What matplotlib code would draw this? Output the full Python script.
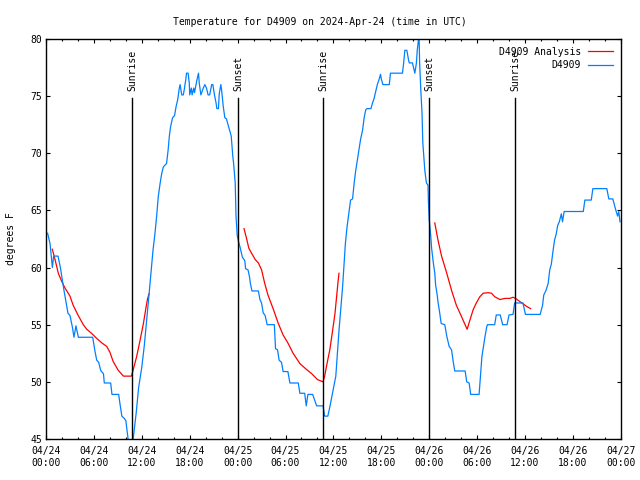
import numpy as np
import matplotlib.pyplot as plt

# hours since 2024-04-24 00:00 UTC
obs_hours = [0.2, 0.5, 0.8, 0.95, 1.5, 1.8, 2.2, 2.5, 2.75, 3.0, 3.3, 3.5, 3.75, 4.05, 5.85, 6.1, 6.35,
             6.6, 6.85, 7.2, 7.3, 8.1, 8.26, 9.1, 9.26, 9.5, 9.8, 10.0, 10.2, 10.35, 10.85, 11.0, 11.3,
             11.6, 12.0, 12.3, 12.6, 12.9, 13.15, 13.4, 13.65, 13.86, 14.06, 14.3, 14.5, 14.7, 15.1,
             15.3, 15.45, 15.6, 15.85, 16.1, 16.3, 16.5, 16.7, 16.8, 17.0, 17.2, 17.3, 17.5, 17.6, 17.8,
             17.95, 18.0, 18.2, 18.3, 18.5, 18.6, 18.9, 19.1, 19.2, 19.4, 19.7, 19.9, 20.1, 20.3, 20.5,
             20.75, 20.9, 21.1, 21.3, 21.4, 21.6, 21.7, 21.9, 22.0, 22.2, 22.4, 22.6, 22.8, 23.0, 23.2,
             23.4, 23.5, 23.7, 23.8, 23.95, 24.1, 24.3, 24.5, 24.6, 24.9, 25.0, 25.3, 25.5, 25.6, 25.8,
             26.6, 26.8, 27.0, 27.2, 27.45, 27.7, 28.6, 28.75, 29.0, 29.2, 29.5, 29.7, 30.3, 30.55,
             31.6, 31.8, 32.4, 32.6, 32.8, 33.4, 33.7, 33.9, 34.7, 34.9, 35.3, 35.55, 35.8, 36.05,
             36.3, 36.5, 36.7, 36.95, 37.15, 37.35, 37.5, 37.7, 37.98, 38.15, 38.4, 38.6, 38.8, 39.0,
             39.2, 39.4, 39.65, 39.85, 40.05, 40.2, 40.7, 40.9, 41.1, 41.3, 41.5, 41.7, 41.9, 42.0,
             42.2, 43.0, 43.15, 44.65, 44.8, 44.95, 45.2, 45.4, 45.5, 45.9, 46.1, 46.2, 46.4, 46.5,
             46.65, 46.72, 46.8, 46.95, 47.1, 47.2, 47.45, 47.65, 47.85, 47.9, 48.0, 48.2, 48.3, 48.5,
             48.7, 48.8, 49.0, 49.1, 49.3, 49.5, 49.95, 50.2, 50.5, 50.8, 51.0, 51.2, 52.5, 52.7, 53.0,
             53.2, 54.25, 54.4, 54.6, 54.8, 55.0, 55.2, 55.3, 56.2, 56.4, 56.9, 57.2, 57.75, 58.0, 58.5,
             58.7, 59.75, 60.05, 61.9, 62.2, 62.35, 62.6, 62.9, 63.1, 63.3, 63.5, 63.7, 63.9, 64.1,
             64.3, 64.55, 64.7, 64.9, 67.3, 67.5, 68.3, 68.5, 70.25, 70.5, 71.0, 71.3, 71.6, 71.75, 71.9]
obs_temp = [63.0, 62.1, 60.0, 61.0, 61.0, 60.0, 58.2, 57.0, 56.0, 55.8, 54.8, 53.9, 54.9, 53.9, 53.9, 52.8, 51.9,
            51.7, 51.0, 50.7, 49.9, 49.9, 48.9, 48.9, 48.1, 47.0, 46.8, 46.6, 45.5, 44.6, 44.6, 45.5, 47.3,
            49.5, 51.3, 53.1, 55.4, 57.6, 59.5, 61.5, 63.0, 64.5, 66.2, 67.4, 68.25, 68.8, 69.1,
            70.3, 71.5, 72.3, 73.1, 73.3, 74.1, 74.7, 75.7, 76.0, 75.1, 75.1, 75.5, 76.4, 77.0, 77.0,
            76.1, 75.1, 75.7, 75.1, 75.7, 75.3, 76.4, 77.0, 76.1, 75.1, 75.7, 76.0, 75.7, 75.1, 75.1,
            76.0, 76.0, 75.1, 74.4, 73.9, 73.9, 75.2, 76.0, 75.5, 74.1, 73.1, 73.0, 72.5, 72.0, 71.5,
            69.7, 69.1, 67.4, 64.5, 62.8, 62.3, 61.8, 61.2, 60.9, 60.6, 59.9, 59.8, 59.15, 58.6, 57.95,
            57.95, 57.2, 56.9, 56.05, 55.8, 55.0, 55.0, 52.9, 52.8, 51.9, 51.7, 50.9, 50.9, 49.9,
            49.9, 49.0, 49.0, 47.9, 48.9, 48.9, 48.3, 47.9, 47.9, 47.0, 47.0, 47.8, 48.7, 49.6,
            50.5, 52.5, 54.5, 56.6, 58.3, 60.4, 62.1, 63.5, 65.0, 65.9, 66.0, 67.4, 68.5, 69.4,
            70.3, 71.2, 72.0, 73.1, 73.8, 73.9, 73.9, 74.4, 74.8, 75.4, 76.0, 76.4, 76.9, 76.5,
            76.0, 76.0, 77.0, 77.0, 77.9, 79.0, 79.0, 78.2, 77.9, 77.9, 77.3, 77.0, 77.9, 79.0,
            79.9, 80.6, 77.9, 75.5, 73.5, 70.9, 68.5, 67.4, 67.2, 65.8, 64.2, 62.7, 61.7, 60.5,
            59.5, 58.5, 57.6, 57.0, 56.1, 55.1, 55.0, 54.0, 53.1, 52.8, 51.8, 50.95, 50.95, 50.0, 49.9,
            48.9, 48.9, 50.3, 52.2, 53.1, 54.0, 54.8, 55.0, 55.0, 55.85, 55.85, 55.0, 55.0, 55.85, 55.9,
            56.9, 56.9, 55.9, 55.9, 56.7, 57.6, 57.95, 58.6, 59.8, 60.3, 61.4, 62.4, 62.9, 63.7,
            64.0, 64.7, 64.0, 64.9, 64.9, 65.9, 65.9, 66.9, 66.9, 66.0, 66.0, 65.2, 64.5, 64.9, 64.0]

# analysis, gaps marked with nan
ana_hours = [0.79, 1.13, 1.54, 1.96, 2.38, 3.0, 3.4, 4.0, 4.67, 5.1, 5.7, 6.35, 7.0, 7.6, 8.0, 8.4, 9.05,
             9.7, 10.7, 10.9, 11.35, 11.8, 12.2, 12.5, 12.7, 12.9, np.nan,
             24.8, 25.1, 25.4, 25.75, 26.2, 26.6, 27.0, 27.4, 27.8, 28.5, 29.1, 29.7, 30.3, 30.95, 31.8,
             32.6, 33.3, 34.0, 34.7, 34.9, 35.2, 35.55, 35.85, 36.2, 36.4, 36.6, 36.7, np.nan,
             48.7, 49.1, 49.55, 50.2, 50.8, 51.4, 52.05, 52.75, 53.1, 53.5, 53.9, 54.35, 54.75, 55.4,
             55.8, 56.2, 56.85, 57.5, 58.1, 58.5, 58.8, 59.2, 59.6, 60.2, 60.7]
ana_temp = [61.6, 60.7, 59.5, 58.8, 58.2, 57.5, 56.7, 55.85, 55.0, 54.6, 54.25, 53.8, 53.4, 53.1, 52.6, 51.8, 51.0,
            50.5, 50.5, 51.0, 52.2, 53.7, 55.1, 56.4, 57.2, 57.7, np.nan,
            63.4, 62.6, 61.7, 61.25, 60.7, 60.4, 59.8, 58.6, 57.6, 56.3, 55.1, 54.1, 53.4, 52.5, 51.6,
            51.1, 50.7, 50.2, 50.0, 50.5, 51.6, 52.8, 54.25, 56.0, 57.45, 58.9, 59.5, np.nan,
            63.9, 62.4, 61.0, 59.5, 58.0, 56.7, 55.7, 54.6, 55.4, 56.3, 56.9, 57.45, 57.75, 57.8,
            57.75, 57.45, 57.2, 57.3, 57.3, 57.4, 57.3, 57.1, 56.9, 56.6, 56.4]

sun_hours = [10.78, 24.08, 34.72, 48.02, 58.8]
sun_labels = ['Sunrise', 'Sunset', 'Sunrise', 'Sunset', 'Sunrise']

tick_hours = list(range(0, 73, 6))
tick_labels = ['04/24\n00:00', '04/24\n06:00', '04/24\n12:00', '04/24\n18:00',
               '04/25\n00:00', '04/25\n06:00', '04/25\n12:00', '04/25\n18:00',
               '04/26\n00:00', '04/26\n06:00', '04/26\n12:00', '04/26\n18:00', '04/27\n00:00']

plt.rcParams['font.family'] = 'DejaVu Sans Mono'
plt.rcParams['font.size'] = 7

fig, ax = plt.subplots(figsize=(6.4, 4.8), dpi=100)
plt.subplots_adjust(left=0.0719, right=0.970, top=0.919, bottom=0.0854)

ax.plot(ana_hours, ana_temp, color='#ff0000', lw=0.9, label='D4909 Analysis')
ax.plot(obs_hours, obs_temp, color='#0080ff', lw=0.9, label='D4909')

for h, lab in zip(sun_hours, sun_labels):
    ax.plot([h, h], [45, 74.8], color='black', lw=1.0)
    ax.text(h, 75.4, lab, rotation=90, ha='center', va='bottom', fontsize=7)

ax.set_xlim(0, 72)
ax.set_ylim(45, 80)
ax.set_xticks(tick_hours)
ax.set_xticklabels(tick_labels)
ax.set_xticks(range(0, 73, 2), minor=True)
ax.set_yticks(range(45, 81, 5))
ax.tick_params(which='both', direction='in', top=True, right=True, width=0.8)
ax.tick_params(which='major', length=3, pad=3)
ax.tick_params(which='minor', length=1.5)
ax.tick_params(axis='x', pad=5)
for s in ax.spines.values():
    s.set_linewidth(1.0)

ax.set_ylabel('degrees F', labelpad=10)
fig.suptitle('Temperature for D4909 on 2024-Apr-24 (time in UTC)', x=0.5, y=0.965, fontsize=7)

ax.legend(loc='upper right', frameon=False, markerfirst=False, handlelength=2.6,
          borderaxespad=0.4, labelspacing=0.35, handletextpad=0.7)

plt.savefig('out.png')
